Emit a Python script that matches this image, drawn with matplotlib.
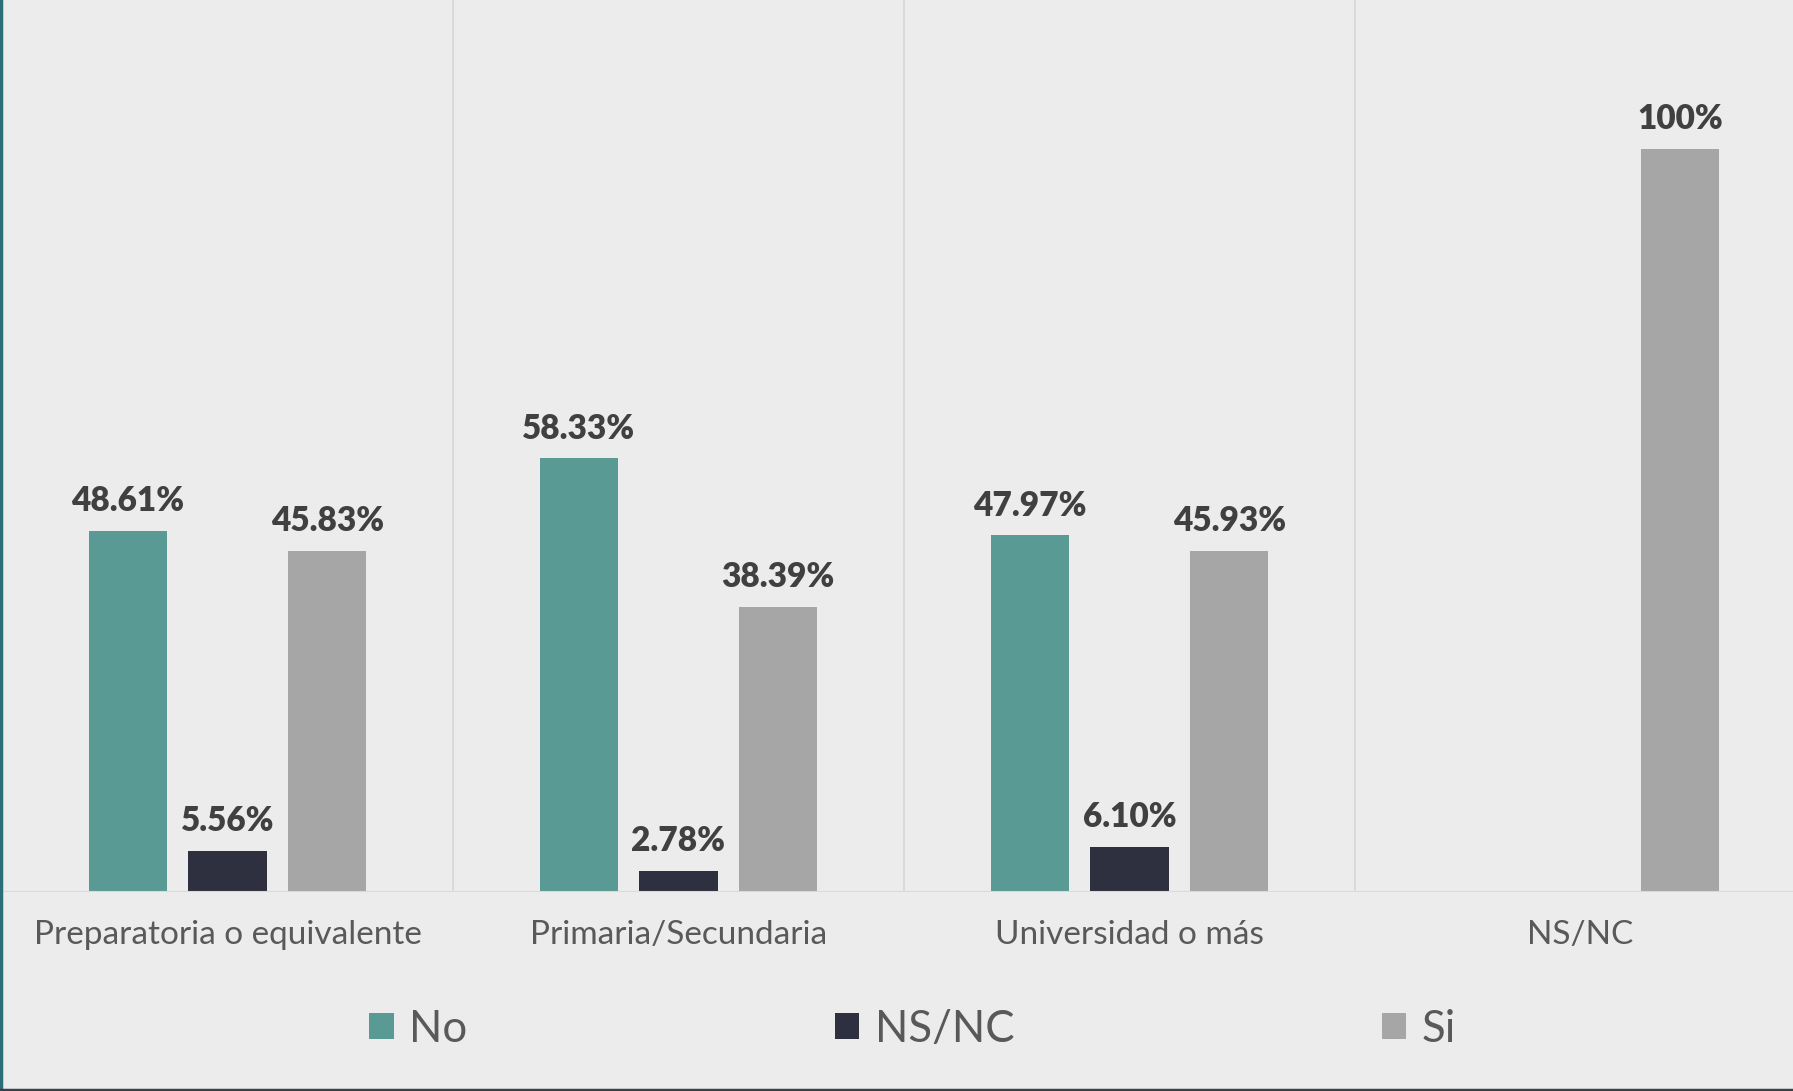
import numpy as np
import matplotlib.pyplot as plt
from matplotlib.lines import Line2D
from matplotlib.patches import Patch

plt.rcParams['font.family'] = ['Lato', 'DejaVu Sans']

categories = ["Preparatoria o equivalente", "Primaria/Secundaria", "Universidad o más", "NS/NC"]
series = ["No", "NS/NC", "Si"]
values_no = [48.61, 58.33, 47.97, np.nan]
values_nsnc = [5.56, 2.78, 6.10, np.nan]
values_si = [45.83, 38.39, 45.93, 100]
labels_no = ["48.61%", "58.33%", "47.97%", ""]
labels_nsnc = ["5.56%", "2.78%", "6.10%", ""]
labels_si = ["45.83%", "38.39%", "45.93%", "100%"]
colors = ["#5a9a94", "#2e2f3f", "#a6a6a6"]

bg = "#ececec"
W, H = 1793, 1091
fig = plt.figure(figsize=(W / 100, H / 100), dpi=100, facecolor=bg)
ax = fig.add_axes([2 / W, 1 - 892 / H, 1804 / W, 892 / H])
ax.set_facecolor(bg)

x = np.arange(len(categories))
offset = 0.221
width = 0.173
all_vals = [values_no, values_nsnc, values_si]
all_labels = [labels_no, labels_nsnc, labels_si]
for i, (vals, labs) in enumerate(zip(all_vals, all_labels)):
    bars = ax.bar(x + (i - 1) * offset, vals, width, color=colors[i], zorder=3)
    ax.bar_label(bars, labels=labs, padding=10, fontsize=24, fontweight='heavy', color='#404040')

ax.set_xlim(-0.5, 3.5)
ax.set_ylim(0, 120)
ax.set_yticks([])
ax.set_xticks(x)
ax.set_xticklabels(categories, fontsize=24, color='#595959')
ax.tick_params(axis='x', length=0, pad=20)
for sep in [0.5, 1.5, 2.5]:
    ax.axvline(sep, color='#d9d9d9', lw=1.3, zorder=1)
ax.axhline(0, color='#d9d9d9', lw=1.5, zorder=4)
for s in ax.spines.values():
    s.set_visible(False)

handles = [Patch(facecolor=c, edgecolor='none') for c in colors]
fig.legend(handles, series, loc='center', bbox_to_anchor=(0.509, 62 / H), ncol=3,
           frameon=False, fontsize=31.5, labelcolor='#595959',
           handlelength=0.56, handleheight=0.56, handletextpad=0.35, columnspacing=8.4)

# thin frame lines on the left and bottom edges
fig.add_artist(Line2D([1 / W, 1 / W], [0, 1], color='#2a6f78', lw=2.5, transform=fig.transFigure))
fig.add_artist(Line2D([0, 1], [1 / H, 1 / H], color='#3a3f4a', lw=2.5, transform=fig.transFigure))

fig.savefig("out.png", dpi=100, facecolor=bg)
